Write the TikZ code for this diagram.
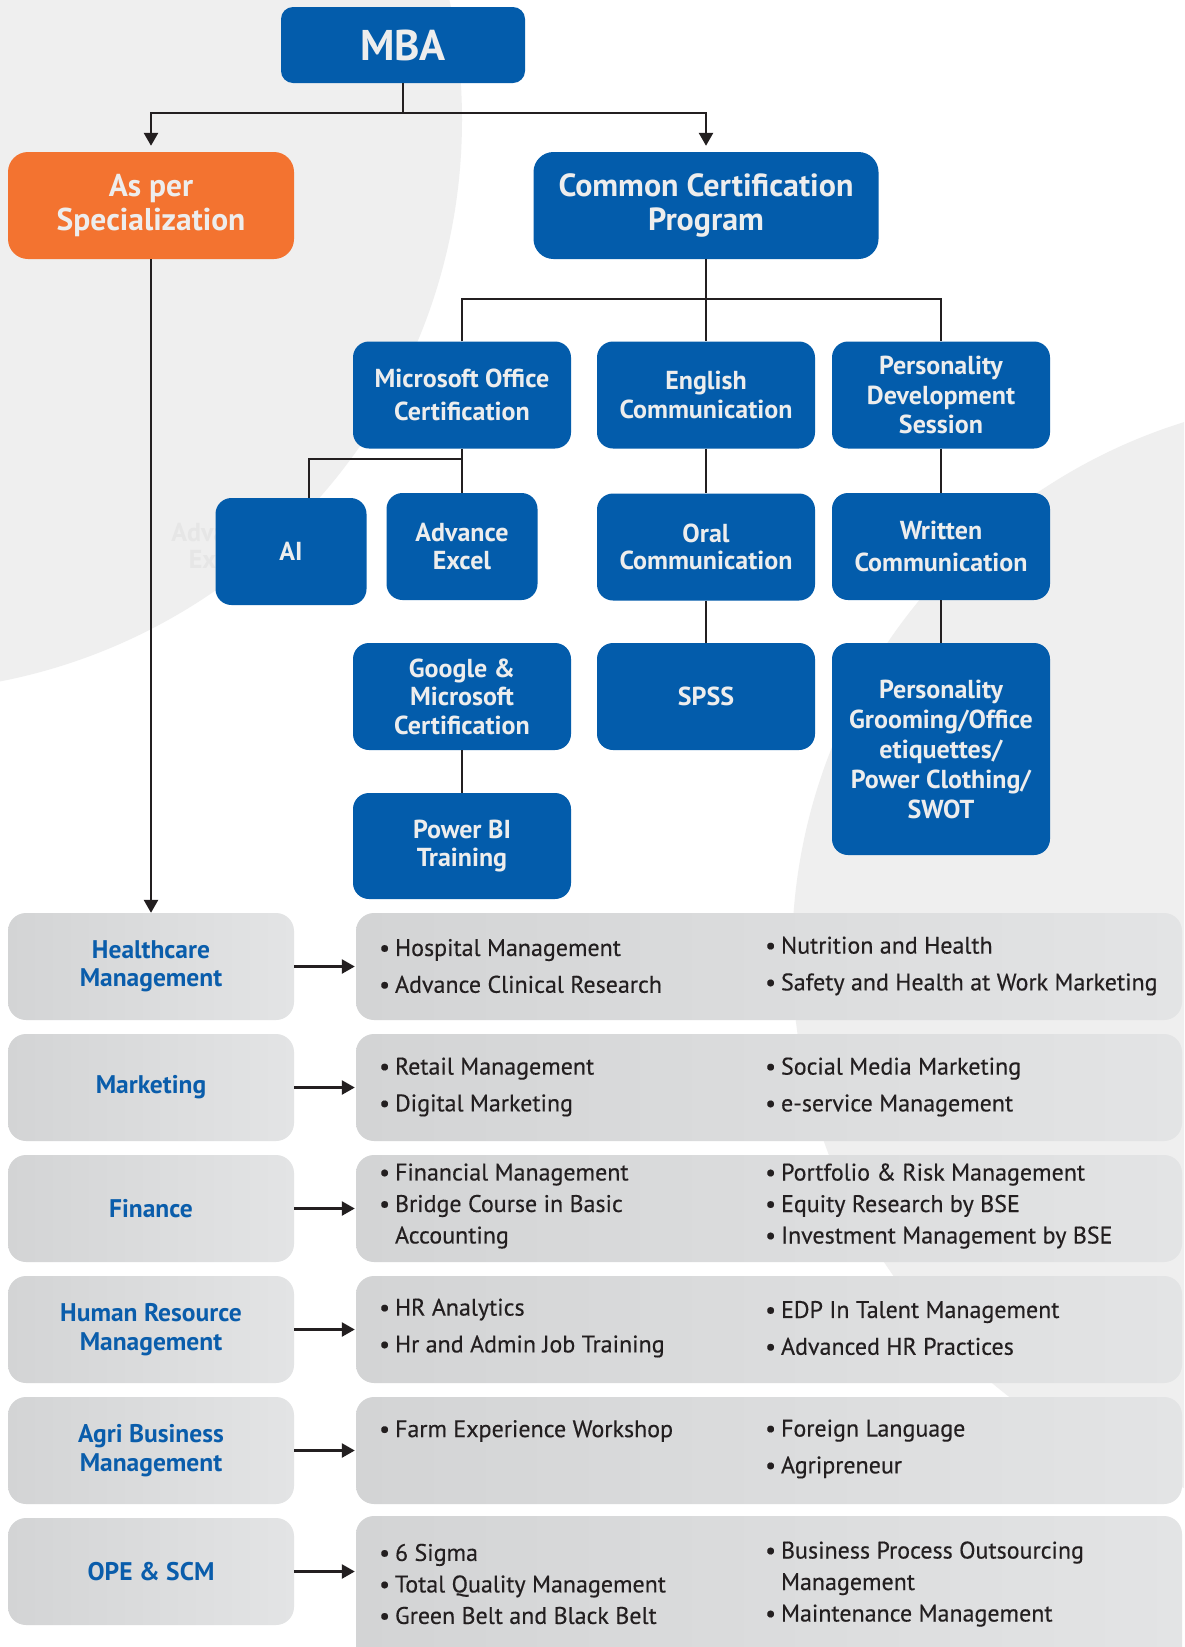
\documentclass[tikz,border=0pt]{standalone}
\usepackage{fontspec}
\setmainfont{PT Sans}
\newfontfamily\itemfont{PT Sans}[FakeBold=0.35]
\usetikzlibrary{arrows.meta,positioning,calc}

\definecolor{mbablue}{HTML}{035CAB}
\definecolor{mbaorange}{HTML}{F37330}
\definecolor{cardtext}{HTML}{EDEDED}
\definecolor{linkgray}{HTML}{231F20}
\definecolor{backgray}{HTML}{EFEFEF}
\definecolor{ghostgray}{HTML}{E6E6E6}
\definecolor{tilelo}{HTML}{D3D4D5}
\definecolor{tilehi}{HTML}{E3E4E5}
\definecolor{tiletext}{HTML}{0A5DAB}
\definecolor{itemtext}{HTML}{231F20}

\newcommand\itm{\textbullet\hspace{5pt}}
\newcommand\cont{\phantom{\textbullet}\hspace{5pt}}

\tikzset{
  card/.style={rectangle, rounded corners=16, inner sep=0pt, align=center,
    text=cardtext, font=\bfseries\fontsize{26}{28.5}\selectfont},
  bluecard/.style={card, fill=mbablue, minimum width=218, minimum height=107},
  smallcard/.style={bluecard, minimum width=151},
  tile/.style={rectangle, rounded corners=18, inner sep=0pt, align=center,
    left color=tilelo, right color=tilehi, minimum height=107},
  spec/.style={tile, minimum width=286, text=tiletext,
    font=\bfseries\fontsize{25.5}{28.4}\selectfont},
  list/.style={tile, minimum width=826},
  items/.style={anchor=west, inner sep=0pt, align=left, text=itemtext,
    font=\itemfont\fontsize{24}{36.8}\selectfont},
  link/.style={draw=linkgray, line width=2.6pt},
  arrowline/.style={link, -{Triangle[length=13pt,width=14pt]}},
}

\begin{document}
\begin{tikzpicture}[x=1pt,y=-1pt]
  \useasboundingbox (0,0) rectangle (1184,1647);
  \clip (0,0) rectangle (1184,1647);
  \fill[white] (0,0) rectangle (1184,1647);

  % background discs
  \fill[backgray] (-110,120) circle (572pt);
  \fill[backgray] (1350,955) circle (558pt);

  % top of the tree
  \node[card, fill=mbablue, minimum width=244, minimum height=76, rounded corners=12,
    font=\bfseries\fontsize{43}{46}\selectfont] (mba) at (403,45) {MBA};
  \node[card, fill=mbaorange, minimum width=286, minimum height=107, rounded corners=20,
    font=\bfseries\fontsize{31.5}{33.6}\selectfont] (asper) at (151,205.5) {As per\\Specialization};
  \node[card, fill=mbablue, minimum width=345, minimum height=107, rounded corners=20,
    font=\bfseries\fontsize{32}{33.6}\selectfont] (ccp) at (706,205.5) {Common Certification\\Program};

  \coordinate (mbasplit) at (403,113);
  \draw[link] (mba.south) -- (mbasplit);
  \draw[arrowline, shorten >=6pt] (mbasplit) -| (asper.north);
  \draw[arrowline, shorten >=6pt] (mbasplit) -| (ccp.north);

  % certification cards
  \node[bluecard, font=\bfseries\fontsize{26}{33.6}\selectfont] (msoffice) at (462,395) {Microsoft Office\\Certification};
  \node[bluecard] (english) at (706,395) {English\\Communication};
  \node[bluecard, font=\bfseries\fontsize{26}{29.4}\selectfont] (pds) at (941,395) {Personality\\Development\\Session};

  \node[card, text=ghostgray, font=\bfseries\fontsize{26}{27.3}\selectfont] (ghostexcel) at (218,546) {Advance\\Excel};
  \node[smallcard] (ai) at (291,551.5) {AI};
  \node[smallcard, font=\bfseries\fontsize{26}{27.3}\selectfont] (excel) at (462,546.5) {Advance\\Excel};
  \node[bluecard, font=\bfseries\fontsize{26}{27.3}\selectfont] (oral) at (706,547) {Oral\\Communication};
  \node[bluecard, font=\bfseries\fontsize{26}{31.5}\selectfont] (written) at (941,546.5) {Written\\Communication};

  \node[bluecard] (google) at (462,696.5) {Google \&\\Microsoft\\Certification};
  \node[bluecard] (spss) at (706,696.5) {SPSS};
  \node[bluecard, minimum height=212, font=\bfseries\fontsize{26}{30}\selectfont] (grooming) at (941,749)
    {Personality\\Grooming/Office\\etiquettes/\\Power Clothing/\\SWOT};
  \node[bluecard, minimum height=106] (powerbi) at (462,846) {Power BI\\Training};

  \coordinate (ccpsplit) at (706,299);
  \coordinate (mssplit) at (462,459);
  \coordinate (aijoin) at (309,459);
  \draw[link] (ccp.south) -- (ccpsplit);
  \draw[link] (msoffice.north) |- (ccpsplit) -| (pds.north);
  \draw[link] (ccpsplit) -- (english.north);
  \draw[link] (msoffice.south) -- (excel.north);
  \draw[link] (mssplit) -- (aijoin) -- (aijoin |- ai.north);
  \draw[link] (english) -- (oral);
  \draw[link] (oral) -- (spss);
  \draw[link] (pds) -- (written);
  \draw[link] (written) -- (grooming);
  \draw[link] (google) -- (powerbi);

  % specializations
  \node[spec] (hc) at (151,966.5) {Healthcare\\Management};
  \node[spec] (mkt) at (151,1087.5) {Marketing};
  \node[spec] (fin) at (151,1208.5) {Finance};
  \node[spec] (hr) at (151,1329.5) {Human Resource\\Management};
  \node[spec] (agri) at (151,1450.5) {Agri Business\\Management};
  \node[spec] (ope) at (151,1571.5) {OPE \& SCM};

  \node[list] (hclist) at (769,966.5) {};
  \node[list] (mktlist) at (769,1087.5) {};
  \node[list] (finlist) at (769,1208.5) {};
  \node[list] (hrlist) at (769,1329.5) {};
  \node[list] (agrilist) at (769,1450.5) {};
  \node[list, minimum height=170] (opelist) at (769,1601) {};

  \draw[arrowline] (asper.south) -- (hc.north);
  \foreach \s in {hc,mkt,fin,hr,agri,ope}
    \draw[arrowline, shorten >=1pt] (\s.east) -- (\s.east -| opelist.west);

  % course lists
  \node[items] (hca) at (379,966) {\itm Hospital Management\\\itm Advance Clinical Research};
  \node[items] (hcb) at (765,966) {\itm Nutrition and Health\\\itm Safety and Health at Work Marketing};
  \node[items] (mkta) at (379,1087) {\itm Retail Management\\\itm Digital Marketing};
  \node[items] (mktb) at (765,1087) {\itm Social Media Marketing\\\itm e-service Management};
  \node[items, font=\itemfont\fontsize{24}{31.5}\selectfont] (fina) at (379,1206)
    {\itm Financial Management\\\itm Bridge Course in Basic\\\cont Accounting};
  \node[items, font=\itemfont\fontsize{24}{31.5}\selectfont] (finb) at (765,1206)
    {\itm Portfolio \& Risk Management\\\itm Equity Research by BSE\\\itm Investment Management by BSE};
  \node[items] (hra) at (379,1328) {\itm HR Analytics\\\itm Hr and Admin Job Training};
  \node[items] (hrb) at (765,1328) {\itm EDP In Talent Management\\\itm Advanced HR Practices};
  \node[items] (agria) at (379,1431) {\itm Farm Experience Workshop};
  \node[items] (agrib) at (765,1449) {\itm Foreign Language\\\itm Agripreneur};
  \node[items, font=\itemfont\fontsize{24}{31.5}\selectfont] (opea) at (379,1584)
    {\itm 6 Sigma\\\itm Total Quality Management\\\itm Green Belt and Black Belt};
  \node[items, font=\itemfont\fontsize{24}{31.5}\selectfont] (opeb) at (765,1584)
    {\itm Business Process Outsourcing\\\cont Management\\\itm Maintenance Management};
\end{tikzpicture}
\end{document}
